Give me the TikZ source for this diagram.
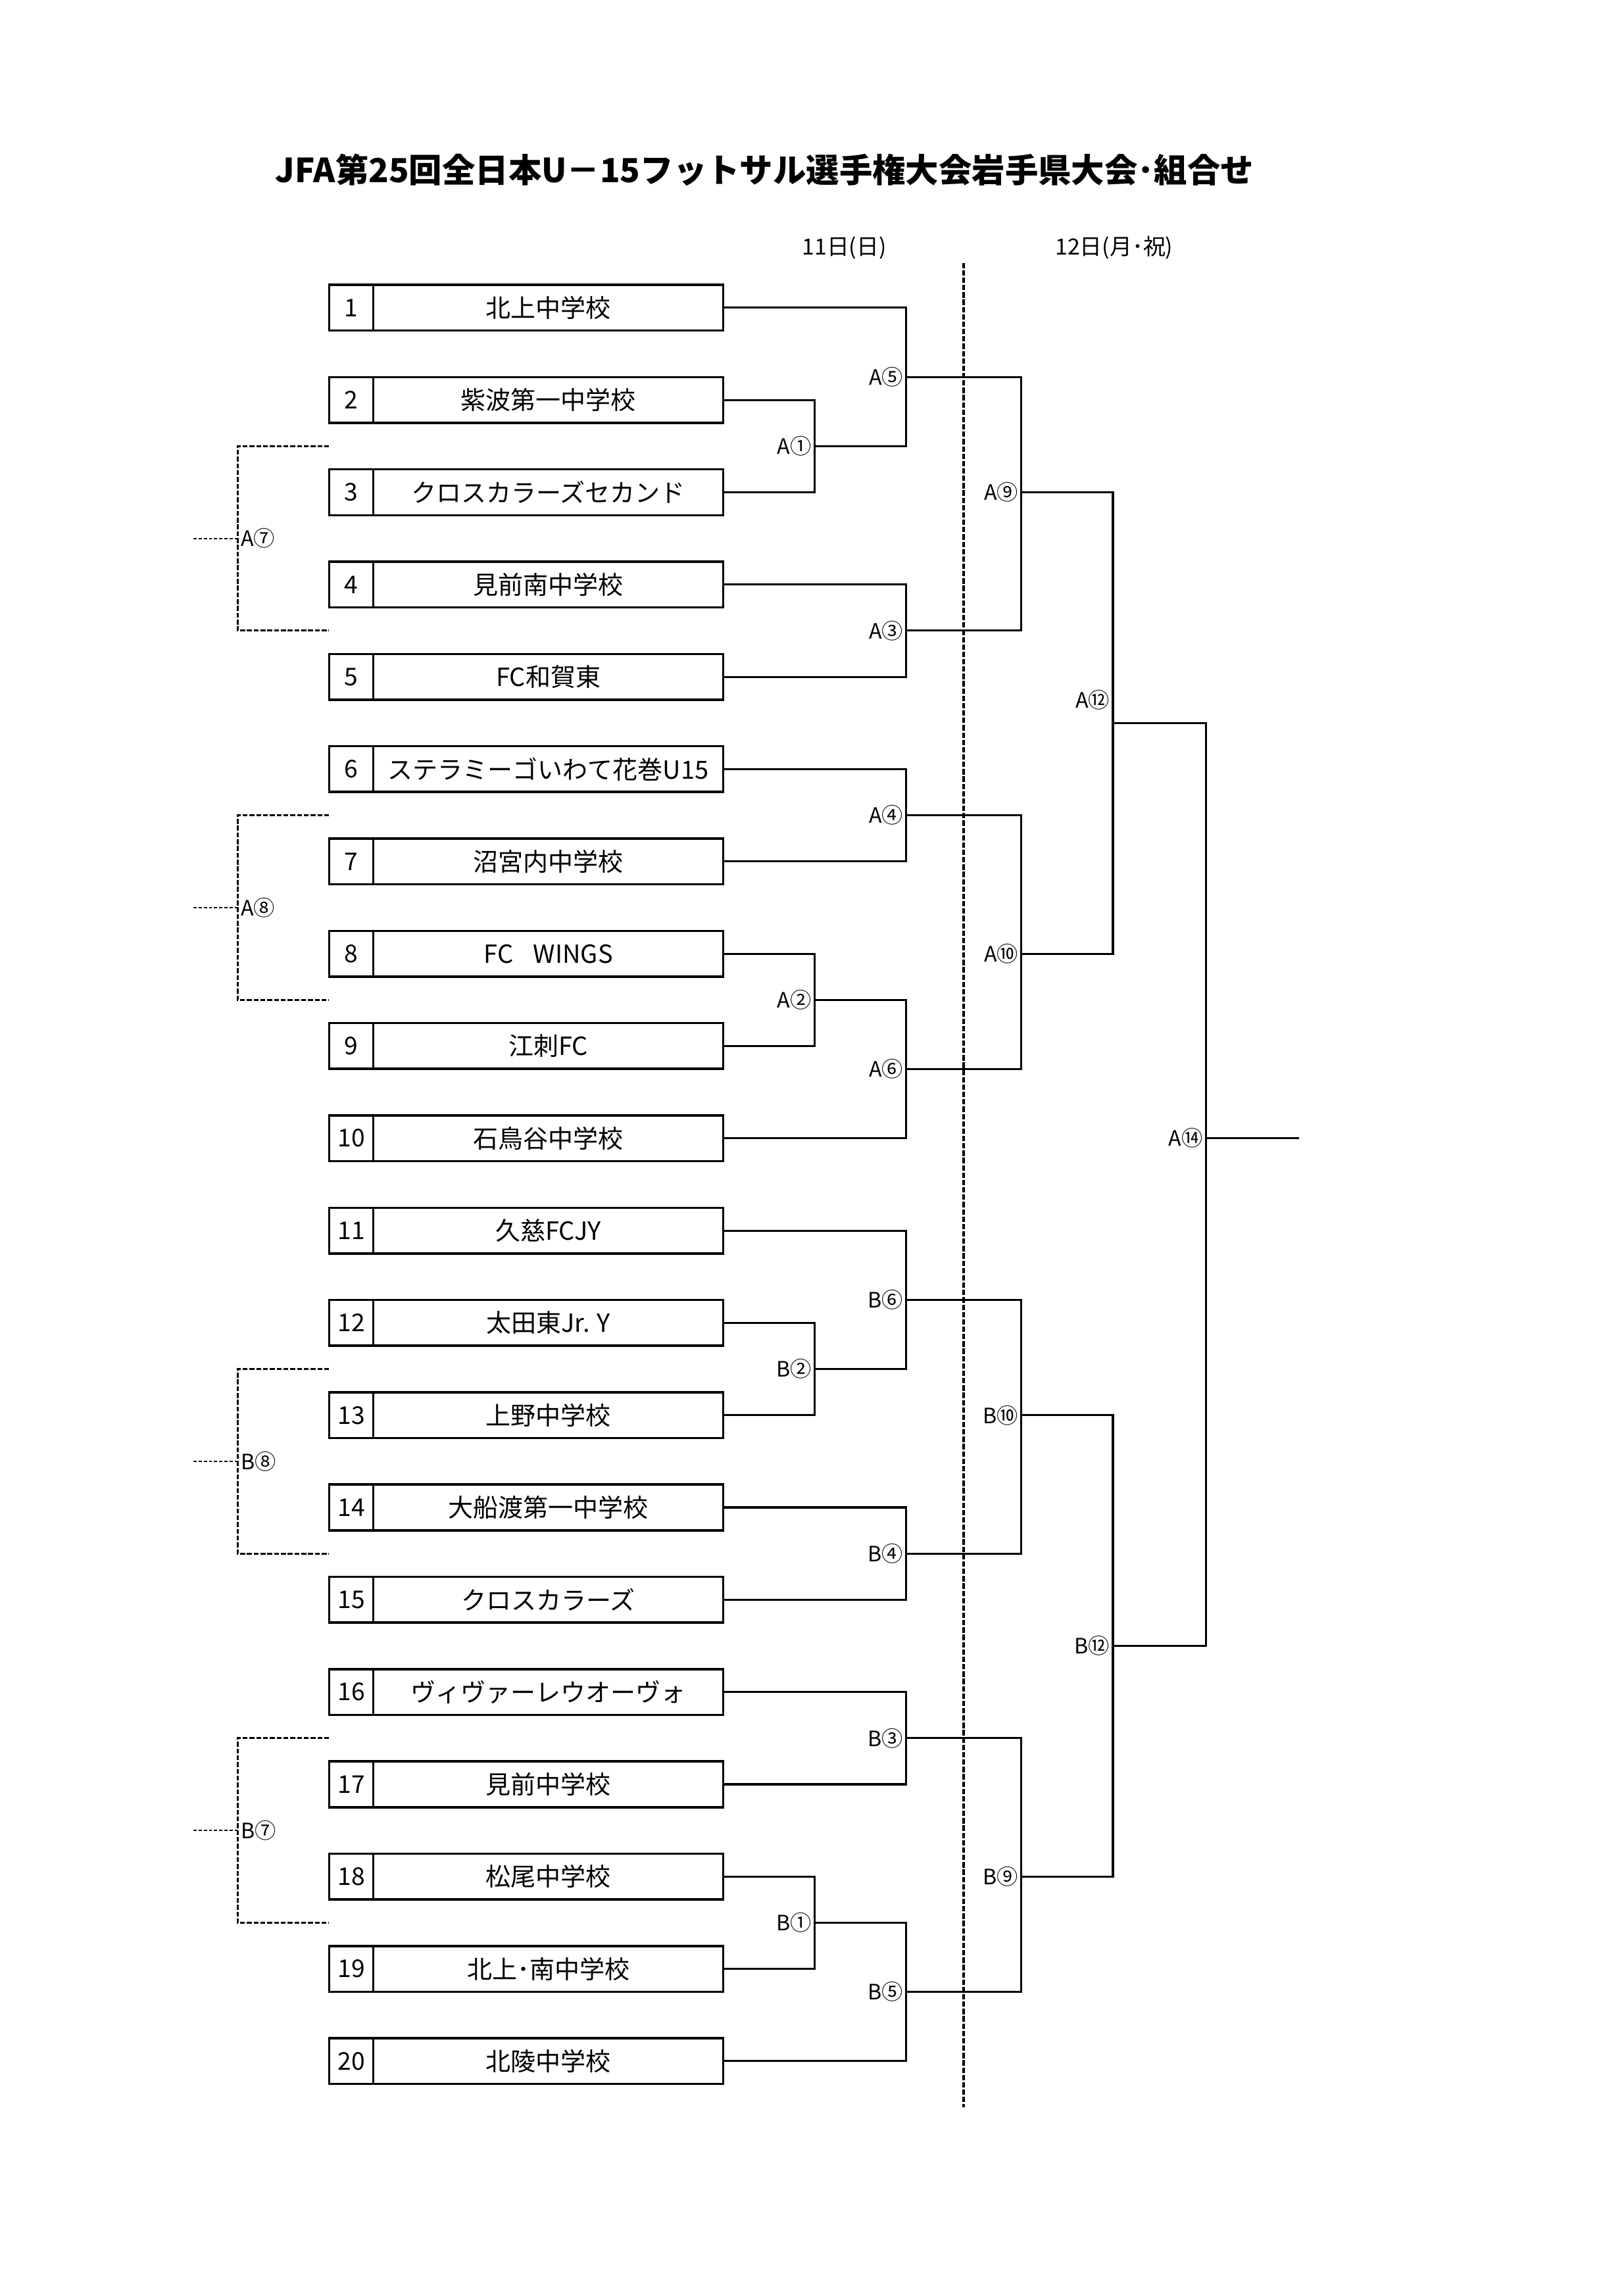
\documentclass[tikz,border=0pt]{standalone}
\usepackage{fontspec}
\setmainfont{Noto Sans CJK JP}
\usepackage{tikz}
\usetikzlibrary{positioning,calc}

\tikzset{
  numcell/.style={draw,line width=0.85pt,minimum width=0.573cm,minimum height=0.592cm,inner sep=0pt,outer sep=0pt,font=\fontsize{9}{9}\selectfont},
  namecell/.style={draw,line width=0.85pt,minimum width=4.525cm,minimum height=0.592cm,inner sep=0pt,outer sep=0pt,font=\fontsize{9.2}{9.2}\selectfont},
  lbl/.style={anchor=east,inner sep=1pt,font=\fontsize{7.8}{7.8}\selectfont},
  lblw/.style={anchor=west,inner sep=1pt,font=\fontsize{7.8}{7.8}\selectfont},
  link/.style={line width=0.75pt},
  bracket/.style={line width=0.7pt,dash pattern=on 1.8pt off 0.7pt},
  stub/.style={line width=0.5pt,dash pattern=on 1.2pt off 0.7pt},
  dayline/.style={line width=1pt,dash pattern=on 2pt off 0.7pt}
}

\begin{document}
\begin{tikzpicture}[x=1cm,y=-1cm]
  \useasboundingbox (0,0) rectangle (21,29.7);
  \node[font=\bfseries\fontsize{12.2}{12.2}\selectfont] (title) at (9.89,2.195) {JFA第25回全日本U－15フットサル選手権大会岩手県大会･組合せ};
  \node[font=\fontsize{8.2}{8.2}\selectfont] (day11) at (10.92,3.207) {11日(日)};
  \node[font=\fontsize{8.2}{8.2}\selectfont] (day12) at (14.41,3.207) {12日(月･祝)};
  % day separator
  \coordinate (daytop) at (12.466,3.40);
  \coordinate (daybot) at (12.466,27.26);
  \draw[dayline] (daytop) -- (daybot);

  % teams
  \node[numcell] (n1) at (4.5435,3.980) {1};    \node[namecell,right=0pt of n1] (t1) {北上中学校};
  \node[numcell] (n2) at (4.5435,5.174) {2};    \node[namecell,right=0pt of n2] (t2) {紫波第一中学校};
  \node[numcell] (n3) at (4.5435,6.368) {3};    \node[namecell,right=0pt of n3] (t3) {クロスカラーズセカンド};
  \node[numcell] (n4) at (4.5435,7.561) {4};    \node[namecell,right=0pt of n4] (t4) {見前南中学校};
  \node[numcell] (n5) at (4.5435,8.755) {5};    \node[namecell,right=0pt of n5] (t5) {FC和賀東};
  \node[numcell] (n6) at (4.5435,9.949) {6};    \node[namecell,right=0pt of n6] (t6) {ステラミーゴいわて花巻U15};
  \node[numcell] (n7) at (4.5435,11.143) {7};   \node[namecell,right=0pt of n7] (t7) {沼宮内中学校};
  \node[numcell] (n8) at (4.5435,12.337) {8};   \node[namecell,right=0pt of n8] (t8) {FC\hspace{0.8em}WINGS};
  \node[numcell] (n9) at (4.5435,13.530) {9};   \node[namecell,right=0pt of n9] (t9) {江刺FC};
  \node[numcell] (n10) at (4.5435,14.724) {10}; \node[namecell,right=0pt of n10] (t10) {石鳥谷中学校};
  \node[numcell] (n11) at (4.5435,15.918) {11}; \node[namecell,right=0pt of n11] (t11) {久慈FCJY};
  \node[numcell] (n12) at (4.5435,17.112) {12}; \node[namecell,right=0pt of n12] (t12) {太田東Jr. Y};
  \node[numcell] (n13) at (4.5435,18.306) {13}; \node[namecell,right=0pt of n13] (t13) {上野中学校};
  \node[numcell] (n14) at (4.5435,19.499) {14}; \node[namecell,right=0pt of n14] (t14) {大船渡第一中学校};
  \node[numcell] (n15) at (4.5435,20.693) {15}; \node[namecell,right=0pt of n15] (t15) {クロスカラーズ};
  \node[numcell] (n16) at (4.5435,21.887) {16}; \node[namecell,right=0pt of n16] (t16) {ヴィヴァーレウオーヴォ};
  \node[numcell] (n17) at (4.5435,23.081) {17}; \node[namecell,right=0pt of n17] (t17) {見前中学校};
  \node[numcell] (n18) at (4.5435,24.275) {18}; \node[namecell,right=0pt of n18] (t18) {松尾中学校};
  \node[numcell] (n19) at (4.5435,25.468) {19}; \node[namecell,right=0pt of n19] (t19) {北上･南中学校};
  \node[numcell] (n20) at (4.5435,26.662) {20}; \node[namecell,right=0pt of n20] (t20) {北陵中学校};

  % match points
  \coordinate (A1) at (10.538,5.771);  \coordinate (A2) at (10.538,12.934);
  \coordinate (B2) at (10.538,17.709); \coordinate (B1) at (10.538,24.872);
  \coordinate (A5) at (11.722,4.876);  \coordinate (A3) at (11.722,8.158);
  \coordinate (A4) at (11.722,10.546); \coordinate (A6) at (11.722,13.829);
  \coordinate (B6) at (11.722,16.814); \coordinate (B4) at (11.722,20.096);
  \coordinate (B3) at (11.722,22.484); \coordinate (B5) at (11.722,25.767);
  \coordinate (A9) at (13.211,6.368);  \coordinate (A10) at (13.211,12.337);
  \coordinate (B10) at (13.211,18.306); \coordinate (B9) at (13.211,24.275);
  \coordinate (A12) at (14.395,9.352); \coordinate (B12) at (14.395,21.290);
  \coordinate (A14) at (15.597,14.724); \coordinate (final) at (16.80,14.724);

  % first round
  \draw[link] (t2.east) -| (A1) |- (t3.east);
  \draw[link] (t8.east) -| (A2) |- (t9.east);
  \draw[link] (t12.east) -| (B2) |- (t13.east);
  \draw[link] (t18.east) -| (B1) |- (t19.east);
  % second round
  \draw[link] (t1.east) -| (A5) |- (A1);
  \draw[link] (t4.east) -| (A3) |- (t5.east);
  \draw[link] (t6.east) -| (A4) |- (t7.east);
  \draw[link] (A2) -| (A6) |- (t10.east);
  \draw[link] (t11.east) -| (B6) |- (B2);
  \draw[link] (t14.east) -| (B4) |- (t15.east);
  \draw[link] (t16.east) -| (B3) |- (t17.east);
  \draw[link] (B1) -| (B5) |- (t20.east);
  % second day
  \draw[link] (A5) -| (A9) |- (A3);
  \draw[link] (A4) -| (A10) |- (A6);
  \draw[link] (B6) -| (B10) |- (B4);
  \draw[link] (B3) -| (B9) |- (B5);
  \draw[link] (A9) -| (A12) |- (A10);
  \draw[link] (B10) -| (B12) |- (B9);
  \draw[link] (A12) -| (A14) |- (B12);
  \draw[link] (A14) -- (final);

  % match labels
  \node[lbl] (lA1) at (A1) {A①};   \node[lbl] (lA2) at (A2) {A②};
  \node[lbl] (lB2) at (B2) {B②};   \node[lbl] (lB1) at (B1) {B①};
  \node[lbl] (lA5) at (A5) {A⑤};   \node[lbl] (lA3) at (A3) {A③};
  \node[lbl] (lA4) at (A4) {A④};   \node[lbl] (lA6) at (A6) {A⑥};
  \node[lbl] (lB6) at (B6) {B⑥};   \node[lbl] (lB4) at (B4) {B④};
  \node[lbl] (lB3) at (B3) {B③};   \node[lbl] (lB5) at (B5) {B⑤};
  \node[lbl] (lA9) at (A9) {A⑨};   \node[lbl] (lA10) at (A10) {A⑩};
  \node[lbl] (lB10) at (B10) {B⑩}; \node[lbl] (lB9) at (B9) {B⑨};
  \node[lbl] (lA12) at (14.395,9.05) {A⑫};
  \node[lbl] (lB12) at (B12) {B⑫};
  \node[lbl] (lA14) at (A14) {A⑭};

  % consolation brackets (dashed)
  \coordinate (A7) at (3.074,6.964);  \coordinate (A7in) at (2.501,6.964);
  \coordinate (A8) at (3.074,11.740); \coordinate (A8in) at (2.501,11.740);
  \coordinate (B8) at (3.074,18.902); \coordinate (B8in) at (2.501,18.902);
  \coordinate (B7) at (3.074,23.678); \coordinate (B7in) at (2.501,23.678);
  \draw[bracket] (n2.west |- A1) -| (A7) |- (n4.west |- A3);
  \draw[bracket] (n6.west |- A4) -| (A8) |- (n8.west |- A2);
  \draw[bracket] (n12.west |- B2) -| (B8) |- (n14.west |- B4);
  \draw[bracket] (n16.west |- B3) -| (B7) |- (n18.west |- B1);
  \draw[stub] (A7in) -- (A7);
  \draw[stub] (A8in) -- (A8);
  \draw[stub] (B8in) -- (B8);
  \draw[stub] (B7in) -- (B7);
  \node[lblw] (lA7) at (A7) {A⑦};
  \node[lblw] (lA8) at (A8) {A⑧};
  \node[lblw] (lB8) at (B8) {B⑧};
  \node[lblw] (lB7) at (B7) {B⑦};
\end{tikzpicture}
\end{document}
